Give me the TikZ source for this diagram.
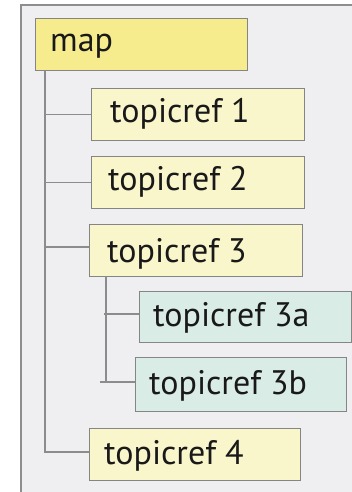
\documentclass[tikz,border=0pt]{standalone}
\usepackage{fontspec}
\setmainfont{PT Sans}
\definecolor{framebg}{HTML}{EFEFF1}
\definecolor{framedraw}{HTML}{8E8E90}
\definecolor{mapfill}{HTML}{F6EC8E}
\definecolor{reffill}{HTML}{FAF6CC}
\definecolor{subfill}{HTML}{D9ECE6}
\definecolor{boxdraw}{HTML}{858585}
\definecolor{linkcol}{HTML}{8C8C8C}
\begin{document}
\begin{tikzpicture}[x=1pt,y=-1pt,
  box/.style={draw=boxdraw,line width=1.3pt,inner sep=0pt,anchor=north west},
  lbl/.style={font=\fontsize{34}{34}\selectfont,text=black!90,anchor=west,inner sep=0pt},
  link/.style={draw=linkcol,line width=1.5pt}]
\useasboundingbox (0,0) rectangle (352,492);
\fill[white] (0,0) rectangle (352,492);
\fill[framebg] (21,5) rectangle (352,492);
\draw[framedraw,line width=2pt] (21,495) -- (21,5) -- (355,5);
% boxes
\node[box,fill=mapfill,minimum width=212pt,minimum height=52pt] (map) at (35,18) {};
\node[box,fill=reffill,minimum width=213pt,minimum height=52pt] (t1) at (91,88) {};
\node[box,fill=reffill,minimum width=213pt,minimum height=52pt] (t2) at (91,156) {};
\node[box,fill=reffill,minimum width=213pt,minimum height=52pt] (t3) at (89,224) {};
\node[box,fill=subfill,minimum width=212pt,minimum height=51pt] (t3a) at (139,291) {};
\node[box,fill=subfill,minimum width=211pt,minimum height=54pt] (t3b) at (135,357) {};
\node[box,fill=reffill,minimum width=211pt,minimum height=52pt] (t4) at (89,428) {};
% labels
\node[lbl] (lmap) at ([xshift=15pt,yshift=-2pt]map.west) {map};
\node[lbl] (l1) at ([xshift=19pt,yshift=1pt]t1.west) {topicref 1};
\node[lbl] (l2) at ([xshift=17pt,yshift=1pt]t2.west) {topicref 2};
\node[lbl] (l3) at ([xshift=18pt,yshift=-3pt]t3.west) {topicref 3};
\node[lbl] (l3a) at ([xshift=14pt,yshift=-1pt]t3a.west) {topicref 3a};
\node[lbl] (l3b) at ([xshift=14pt,yshift=-1pt]t3b.west) {topicref 3b};
\node[lbl] (l4) at ([xshift=15pt,yshift=-1pt]t4.west) {topicref 4};
% connectors
\coordinate (mv) at (45,70);
\coordinate (mb) at (45,452);
\draw[link] (mv) -- (mb);
\draw[link] (mv |- t1.west) -- (t1.west);
\draw[link] (mv |- t2.west) -- (t2.west);
\draw[link] (45,247) -- (t3.west |- 0,247);
\draw[link] (44,452) -- (t4.west |- 0,452);
\coordinate (sv) at (106,276);
\coordinate (sb) at (106,382);
\draw[link] (sv) -- (sb);
\draw[link] (104,314) -- (t3a.west |- 0,314);
\draw[link] (100,382) -- (t3b.west |- 0,382);
\end{tikzpicture}
\end{document}
